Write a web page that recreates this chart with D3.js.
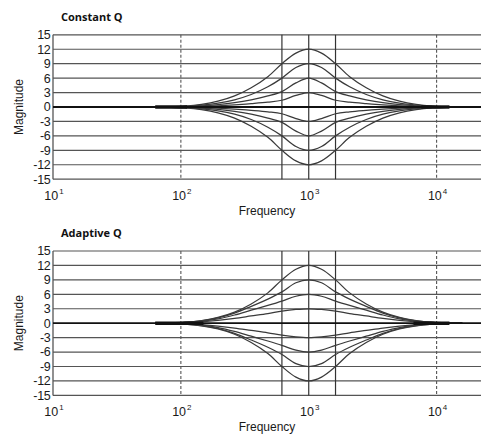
<!DOCTYPE html>
<html><head><meta charset="utf-8">
<script src="https://cdn.jsdelivr.net/npm/d3@7"></script>
<style>
body{margin:0;background:#fff;}
svg{display:block;}
text{font-family:"Liberation Sans",Arial,sans-serif;fill:#1a1a1a;}
</style></head>
<body><svg id="c" width="481" height="436"></svg>
<script>
// ---- data ----
const titles = ["Constant Q", "Adaptive Q"];
const yTicks = [15, 12, 9, 6, 3, 0, -3, -6, -9, -12, -15];
const xTickExps = [1, 2, 3, 4];
const dashedFreqs = [100, 10000];
const bandFreqs = [617, 1000, 1620];
const freqs = [63, 79, 107, 145, 195, 263, 355, 479, 617, 794, 1000, 1259, 1622, 2089, 2818, 3802, 5129, 6918, 9333, 12589, 15849];
// frequency spans where all curves merge on the 0 dB line
const constMerge = [[63, 112], [7600, 12600]];
const adaptMerge = [[63, 150], [6600, 12600]];

const constBoost12 = [0,0.06,0.2,0.55,1.2,2.3,4.0,6.3,9.0,11.2,12,11.2,9.0,6.3,4.0,2.3,1.2,0.55,0.2,0.06,0];
const constBoost9  = [0,0.04,0.14,0.4,0.8,1.5,2.6,4.2,6.0,8.2,9,8.2,6.0,4.2,2.6,1.5,0.8,0.4,0.14,0.04,0];
const constBoost6  = [0,0.03,0.1,0.25,0.5,0.9,1.5,2.3,3.2,5.0,6,5.0,3.2,2.3,1.5,0.9,0.5,0.25,0.1,0.03,0];
const constBoost3  = [0,0.02,0.05,0.12,0.25,0.45,0.7,1.0,1.4,2.4,3,2.4,1.4,1.0,0.7,0.45,0.25,0.12,0.05,0.02,0];
const constCut3    = [0,-0.02,-0.05,-0.12,-0.25,-0.45,-0.7,-1.0,-1.4,-2.4,-3,-2.4,-1.4,-1.0,-0.7,-0.45,-0.25,-0.12,-0.05,-0.02,0];
const constCut6    = [0,-0.03,-0.1,-0.25,-0.5,-0.9,-1.5,-2.3,-3.2,-5.0,-6,-5.0,-3.2,-2.3,-1.5,-0.9,-0.5,-0.25,-0.1,-0.03,0];
const constCut9    = [0,-0.04,-0.14,-0.4,-0.8,-1.5,-2.6,-4.2,-6.0,-8.2,-9,-8.2,-6.0,-4.2,-2.6,-1.5,-0.8,-0.4,-0.14,-0.04,0];
const constCut12   = [0,-0.06,-0.2,-0.55,-1.2,-2.3,-4.0,-6.3,-9.0,-11.2,-12,-11.2,-9.0,-6.3,-4.0,-2.3,-1.2,-0.55,-0.2,-0.06,0];

const adaptBoost12 = [0,0.06,0.2,0.55,1.2,2.3,4.0,6.3,9.0,11.2,12,11.2,9.0,6.3,4.0,2.3,1.2,0.55,0.2,0.06,0];
const adaptBoost9  = [0,0.05,0.18,0.5,1.1,2.1,3.5,5.0,6.5,8.4,9,8.4,6.5,5.0,3.5,2.1,1.1,0.5,0.18,0.05,0];
const adaptBoost6  = [0,0.04,0.15,0.4,0.9,1.7,2.7,3.7,4.6,5.6,6,5.6,4.6,3.7,2.7,1.7,0.9,0.4,0.15,0.04,0];
const adaptBoost3  = [0,0.03,0.1,0.3,0.6,1.0,1.5,2.0,2.5,2.85,3,2.85,2.5,2.0,1.5,1.0,0.6,0.3,0.1,0.03,0];
const adaptCut3    = [0,-0.03,-0.1,-0.3,-0.6,-1.0,-1.5,-2.0,-2.5,-2.85,-3,-2.85,-2.5,-2.0,-1.5,-1.0,-0.6,-0.3,-0.1,-0.03,0];
const adaptCut6    = [0,-0.04,-0.15,-0.4,-0.9,-1.7,-2.7,-3.7,-4.6,-5.6,-6,-5.6,-4.6,-3.7,-2.7,-1.7,-0.9,-0.4,-0.15,-0.04,0];
const adaptCut9    = [0,-0.05,-0.18,-0.5,-1.1,-2.1,-3.5,-5.0,-6.5,-8.4,-9,-8.4,-6.5,-5.0,-3.5,-2.1,-1.1,-0.5,-0.18,-0.05,0];
const adaptCut12   = [0,-0.06,-0.2,-0.55,-1.2,-2.3,-4.0,-6.3,-9.0,-11.2,-12,-11.2,-9.0,-6.3,-4.0,-2.3,-1.2,-0.55,-0.2,-0.06,0];

const panelSeries = [
  [constBoost12, constBoost9, constBoost6, constBoost3, constCut3, constCut6, constCut9, constCut12],
  [adaptBoost12, adaptBoost9, adaptBoost6, adaptBoost3, adaptCut3, adaptCut6, adaptCut9, adaptCut12]
];
const panelMerge = [constMerge, adaptMerge];

// ---- drawing ----
const W = 481;
const svg = d3.select("#c");
const x = d3.scaleLog().domain([10, 10000]).range([53, 436.6]);
const panelTops = [34.8, 251];
const plotH = 144.4;
const gridColor = "#555";

panelTops.forEach((top, pi) => {
  const g = svg.append("g");
  const y = d3.scaleLinear().domain([-15, 15]).range([top + plotH, top]);
  const x0 = x(10);

  // title
  g.append("text").attr("x", 61).attr("y", top - 14.2)
    .style("font-family", "'Open Sans',sans-serif").style("font-weight", 700)
    .style("font-size", "11px").style("fill", "#111").text(titles[pi]);

  // horizontal grid
  g.selectAll("line.h").data(yTicks.filter(v => v !== 0)).enter().append("line")
    .attr("x1", x0).attr("x2", W).attr("y1", d => y(d)).attr("y2", d => y(d))
    .attr("stroke", gridColor).attr("stroke-width", 1.2);

  // dashed verticals
  g.selectAll("line.d").data(dashedFreqs).enter().append("line")
    .attr("x1", d => x(d)).attr("x2", d => x(d)).attr("y1", y(15)).attr("y2", y(-15))
    .attr("stroke", gridColor).attr("stroke-width", 1.1).attr("stroke-dasharray", "3,2");

  // band verticals
  g.selectAll("line.b").data(bandFreqs).enter().append("line")
    .attr("x1", d => x(d)).attr("x2", d => x(d)).attr("y1", y(15)).attr("y2", y(-15))
    .attr("stroke", "#333").attr("stroke-width", 1.2);

  // left axis
  g.append("line").attr("x1", x0).attr("x2", x0).attr("y1", y(15)).attr("y2", y(-15))
    .attr("stroke", gridColor).attr("stroke-width", 1.3);

  // curves
  const line = d3.line().x((d, i) => x(freqs[i])).y(d => y(d)).curve(d3.curveCatmullRom.alpha(0.5));
  g.selectAll("path.c").data(panelSeries[pi]).enter().append("path")
    .attr("d", d => line(d)).attr("fill", "none")
    .attr("stroke", "#3a3a3a").attr("stroke-width", 1.25);

  // zero line
  g.append("line").attr("x1", x0).attr("x2", W).attr("y1", y(0)).attr("y2", y(0))
    .attr("stroke", "#111").attr("stroke-width", 1.8);

  // merged-curve spans on 0 dB
  g.selectAll("line.m").data(panelMerge[pi]).enter().append("line")
    .attr("x1", d => x(d[0])).attr("x2", d => x(d[1])).attr("y1", y(0)).attr("y2", y(0))
    .attr("stroke", "#111").attr("stroke-width", 3.4);

  // y tick labels
  g.selectAll("text.yt").data(yTicks).enter().append("text")
    .attr("x", 50.5).attr("y", d => y(d) + 4.4).attr("text-anchor", "end")
    .style("font-size", "12.5px").style("letter-spacing", "-0.3px").text(d => d);

  // x tick labels
  const xl = g.selectAll("text.xt").data(xTickExps).enter().append("text")
    .attr("x", d => x(Math.pow(10, d)) + 1).attr("y", top + plotH + 21)
    .attr("text-anchor", "middle").style("font-size", "12.5px");
  xl.append("tspan").text("10");
  xl.append("tspan").attr("dx", 1).attr("dy", -6).style("font-size", "8px").text(d => d);

  // axis titles
  g.append("text").attr("x", 267).attr("y", top + plotH + 36)
    .attr("text-anchor", "middle").style("font-size", "12px").text("Frequency");
  g.append("text").attr("transform", `translate(22.5,${top + plotH / 2}) rotate(-90)`)
    .attr("text-anchor", "middle").style("font-size", "12px").text("Magnitude");
});
</script></body></html>
